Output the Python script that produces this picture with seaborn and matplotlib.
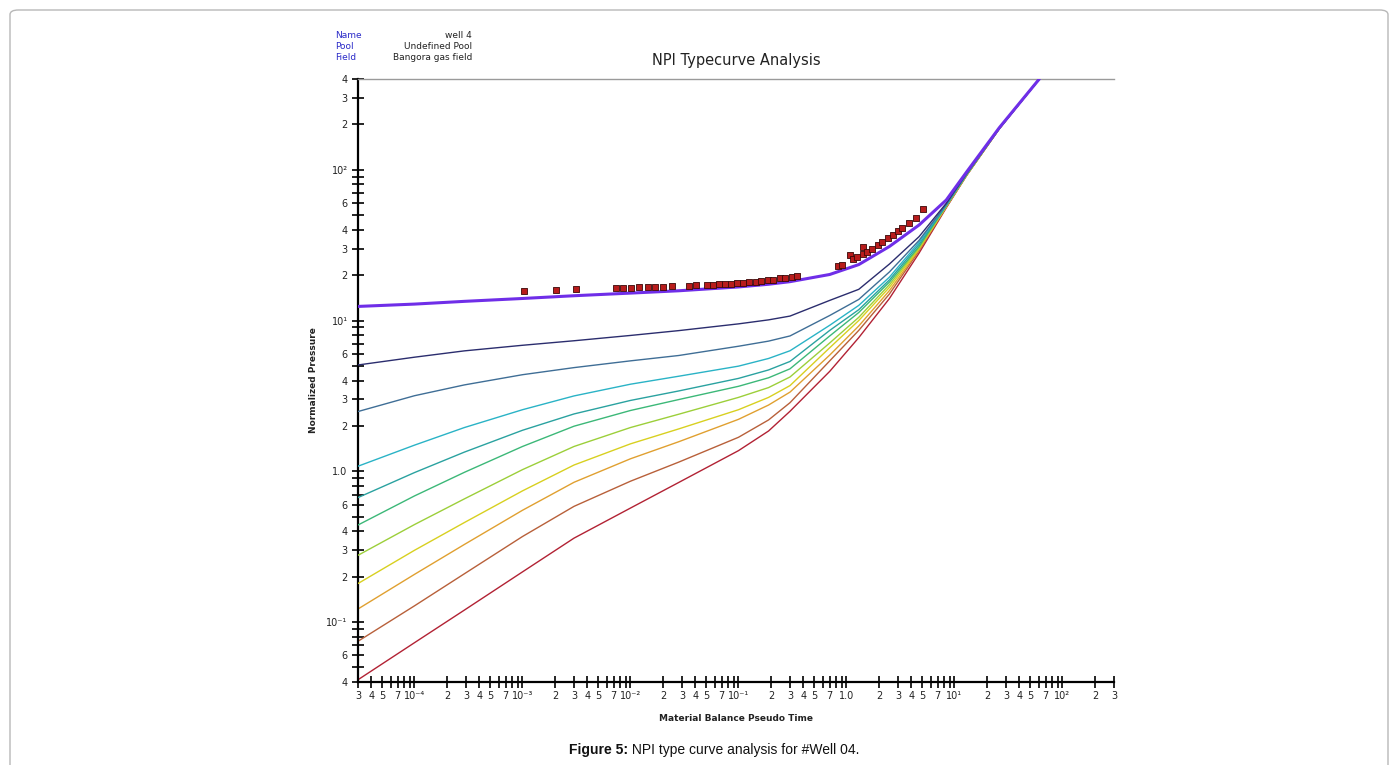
import matplotlib
matplotlib.use("Agg")
import matplotlib.pyplot as plt
import seaborn as sns
import numpy as np
import pandas as pd
from matplotlib.patches import FancyBboxPatch
from matplotlib.ticker import FixedLocator, FixedFormatter, NullLocator

# ---------------- data ----------------
TIME = [3e-5, 1e-4, 2.9e-4, 1e-3, 3.0e-3, 1e-2, 2.8e-2, 0.1, 0.19, 0.3, 0.7, 1.3, 2.5, 4.7, 8.4, 13, 26, 61]

C1 = [12.4, 12.85, 13.4, 14.0, 14.6, 15.2, 15.75, 16.7, 17.4, 18.1, 20.2, 23.5, 31, 43, 63, 97, 190, 400]
C2 = [5.07, 5.71, 6.29, 6.85, 7.34, 7.96, 8.57, 9.5, 10.1, 10.7, 13.6, 16.1, 23.7, 36, 60, 95, 189, 400]
C3 = [2.49, 3.17, 3.74, 4.37, 4.87, 5.40, 5.86, 6.75, 7.3, 7.9, 10.8, 13.8, 21, 34, 59, 94, 188, 400]
C4 = [1.08, 1.49, 1.95, 2.56, 3.16, 3.78, 4.27, 4.98, 5.6, 6.3, 9.3, 12.6, 19.4, 33, 58.5, 94, 188, 400]
C5 = [0.669, 0.98, 1.34, 1.87, 2.40, 2.95, 3.41, 4.13, 4.7, 5.35, 8.6, 11.8, 18.6, 32, 58, 94, 188, 400]
C6 = [0.44, 0.686, 0.984, 1.46, 1.99, 2.53, 2.99, 3.66, 4.17, 4.78, 7.9, 11.3, 18, 31, 58, 93, 188, 400]
C7 = [0.277, 0.443, 0.656, 1.025, 1.46, 1.95, 2.39, 3.09, 3.59, 4.22, 7.1, 10.5, 17.3, 30.5, 57.5, 93, 188, 400]
C8 = [0.18, 0.299, 0.457, 0.741, 1.10, 1.52, 1.91, 2.56, 3.09, 3.7, 6.6, 10.0, 16.6, 30, 57, 93, 188, 400]
C9 = [0.122, 0.207, 0.327, 0.551, 0.845, 1.21, 1.57, 2.21, 2.75, 3.35, 5.9, 9.2, 15.8, 29.5, 57, 92, 187, 400]
C10 = [0.0745, 0.128, 0.209, 0.369, 0.585, 0.859, 1.15, 1.68, 2.19, 2.85, 5.4, 8.6, 15, 29, 56.5, 92, 187, 400]
C11 = [0.0414, 0.0729, 0.120, 0.215, 0.36, 0.57, 0.843, 1.37, 1.85, 2.5, 4.6, 7.7, 14, 28, 56, 92, 187, 400]

CURVES = [C1, C2, C3, C4, C5, C6, C7, C8, C9, C10, C11]
COLORS = ["#6f2ee8", "#2b2d6e", "#3f6e96", "#2ab3c6", "#2aa2a0", "#3cb878",
          "#9ccf3a", "#d8d020", "#e0a030", "#b8603a", "#b22234"]

MB_TIME = [1.04e-3, 2.06e-3, 3.16e-3, 7.41e-3, 8.61e-3, 1.02e-2, 1.21e-2, 1.44e-2,
           1.70e-2, 2.02e-2, 2.40e-2, 3.52e-2, 4.08e-2, 5.16e-2, 5.87e-2, 6.67e-2,
           7.58e-2, 8.61e-2, 9.79e-2, 0.111, 0.126, 0.144, 0.163, 0.186, 0.211,
           0.240, 0.272, 0.310, 0.352,
           0.826, 0.918, 1.07, 1.14, 1.26, 1.41, 1.41, 1.56, 1.74, 1.94, 2.15,
           2.40, 2.67, 2.97, 3.30, 3.83, 4.45, 5.06]
MB_PRESS = [15.7, 15.9, 16.1, 16.4, 16.4, 16.4, 16.7, 16.7,
            16.7, 16.7, 16.9, 16.9, 17.2, 17.2, 17.2, 17.4,
            17.4, 17.4, 17.7, 17.7, 18.0, 18.0, 18.3, 18.5, 18.5,
            19.1, 19.1, 19.4, 19.7,
            23.0, 23.4, 27.3, 25.7, 26.5, 30.9, 27.7, 28.6, 30.0, 31.9, 33.4,
            35.0, 37.2, 39.0, 40.8, 44.1, 47.6, 54.7]

X_TICKS = [3e-5, 4e-5, 5e-5, 6e-5, 7e-5, 8e-5, 9e-5,
           1e-4, 2e-4, 3e-4, 4e-4, 5e-4, 6e-4, 7e-4, 8e-4, 9e-4,
           1e-3, 2e-3, 3e-3, 4e-3, 5e-3, 6e-3, 7e-3, 8e-3, 9e-3,
           1e-2, 2e-2, 3e-2, 4e-2, 5e-2, 6e-2, 7e-2, 8e-2, 9e-2,
           1e-1, 0.2, 0.3, 0.4, 0.5, 0.6, 0.7, 0.8, 0.9,
           1.0, 2, 3, 4, 5, 6, 7, 8, 9,
           10, 20, 30, 40, 50, 60, 70, 80, 90,
           100, 200, 300]
X_LABELS = ["3", "4", "5", "", "7", "", "",
            "10⁻⁴", "2", "3", "4", "5", "", "7", "", "",
            "10⁻³", "2", "3", "4", "5", "", "7", "", "",
            "10⁻²", "2", "3", "4", "5", "", "7", "", "",
            "10⁻¹", "2", "3", "4", "5", "", "7", "", "",
            "1.0", "2", "3", "4", "5", "", "7", "", "",
            "10¹", "2", "3", "4", "5", "", "7", "", "",
            "10²", "2", "3"]

Y_TICKS = [4e-2, 5e-2, 6e-2, 7e-2, 8e-2, 9e-2,
           0.1, 0.2, 0.3, 0.4, 0.5, 0.6, 0.7, 0.8, 0.9,
           1.0, 2, 3, 4, 5, 6, 7, 8, 9,
           10, 20, 30, 40, 50, 60, 70, 80, 90,
           100, 200, 300, 400]
Y_LABELS = ["4", "", "6", "", "", "",
            "10⁻¹", "2", "3", "4", "", "6", "", "", "",
            "1.0", "2", "3", "4", "", "6", "", "", "",
            "10¹", "2", "3", "4", "", "6", "", "", "",
            "10²", "2", "3", "4"]

TITLE = "NPI Typecurve Analysis"
XLABEL = "Material Balance Pseudo Time"
YLABEL = "Normalized Pressure"
INFO_KEYS = ["Name", "Pool", "Field"]
INFO_VALS = ["well 4", "Undefined Pool", "Bangora gas field"]
CAPTION_BOLD = "Figure 5:"
CAPTION_REST = " NPI type curve analysis for #Well 04."

# ---------------- figure ----------------
sns.set_theme(style="white")
plt.rcParams["font.family"] = ["DejaVu Sans"]

W, H = 1398, 765
fig = plt.figure(figsize=(W / 100, H / 100), dpi=100)
fig.patch.set_facecolor("white")

# outer frame (bottom edge lies below the image)
frame = FancyBboxPatch((10 / W, -30 / H), (W - 20) / W, (H + 20) / H,
                       boxstyle="round,pad=0,rounding_size=0.006",
                       transform=fig.transFigure, fill=False,
                       edgecolor="#b8b8b8", linewidth=1.0)
fig.patches.append(frame)

left, right, top, bottom = 358, 1114, 79, 682
ax = fig.add_axes([left / W, 1 - bottom / H, (right - left) / W, (bottom - top) / H])
ax.set_facecolor("white")

for i, (vals, col) in enumerate(zip(CURVES, COLORS)):
    df = pd.DataFrame({"t": TIME, "p": vals})
    sns.lineplot(data=df, x="t", y="p", ax=ax, color=col,
                 linewidth=2.2 if i == 0 else 1.0, zorder=12 if i == 0 else 10 - i,
                 sort=False, estimator=None)

mb = pd.DataFrame({"t": MB_TIME, "p": MB_PRESS})
sns.scatterplot(data=mb, x="t", y="p", ax=ax, marker="s", s=20,
                color="#b81c1c", edgecolor="#3a0808", linewidth=0.6, zorder=15)

ax.set_xscale("log")
ax.set_yscale("log")
ax.set_xlim(3e-5, 3e2)
ax.set_ylim(4e-2, 4e2)

ax.xaxis.set_major_locator(FixedLocator(X_TICKS))
ax.xaxis.set_major_formatter(FixedFormatter(X_LABELS))
ax.xaxis.set_minor_locator(NullLocator())
ax.yaxis.set_major_locator(FixedLocator(Y_TICKS))
ax.yaxis.set_major_formatter(FixedFormatter(Y_LABELS))
ax.yaxis.set_minor_locator(NullLocator())

ax.tick_params(axis="both", which="major", direction="inout", length=9, width=1.2,
               color="black", labelsize=7, labelcolor="#222222", pad=3,
               bottom=True, left=True, top=False, right=False)
ax.tick_params(axis="x", pad=2)

for s in ["left", "bottom"]:
    ax.spines[s].set_color("black")
    ax.spines[s].set_linewidth(1.6)
ax.spines["right"].set_visible(False)
ax.spines["top"].set_color("#9a9a9a")
ax.spines["top"].set_linewidth(1.0)

ax.set_xlabel(XLABEL, fontsize=6.5, fontweight="bold", color="#222222", labelpad=9)
ax.set_ylabel(YLABEL, fontsize=6.5, fontweight="bold", color="#222222", labelpad=6)
ax.set_title(TITLE, fontsize=10.5, color="#222222", pad=10)

# info block
for k, (key, val) in enumerate(zip(INFO_KEYS, INFO_VALS)):
    yy = 1 - (36 + 10.5 * k) / H
    fig.text(335 / W, yy, key, fontsize=6.5, color="#2a2ac8", va="center", ha="left")
    fig.text(472 / W, yy, val, fontsize=6.5, color="#222222", va="center", ha="right")

# caption
fig.text(628 / W, 1 - 750 / H, CAPTION_BOLD, fontsize=10, fontweight="bold",
         ha="right", va="center", family="Liberation Sans", color="#111111")
fig.text(628 / W, 1 - 750 / H, CAPTION_REST, fontsize=10,
         ha="left", va="center", family="Liberation Sans", color="#111111")

fig.savefig("out.png", dpi=100, facecolor="white")
